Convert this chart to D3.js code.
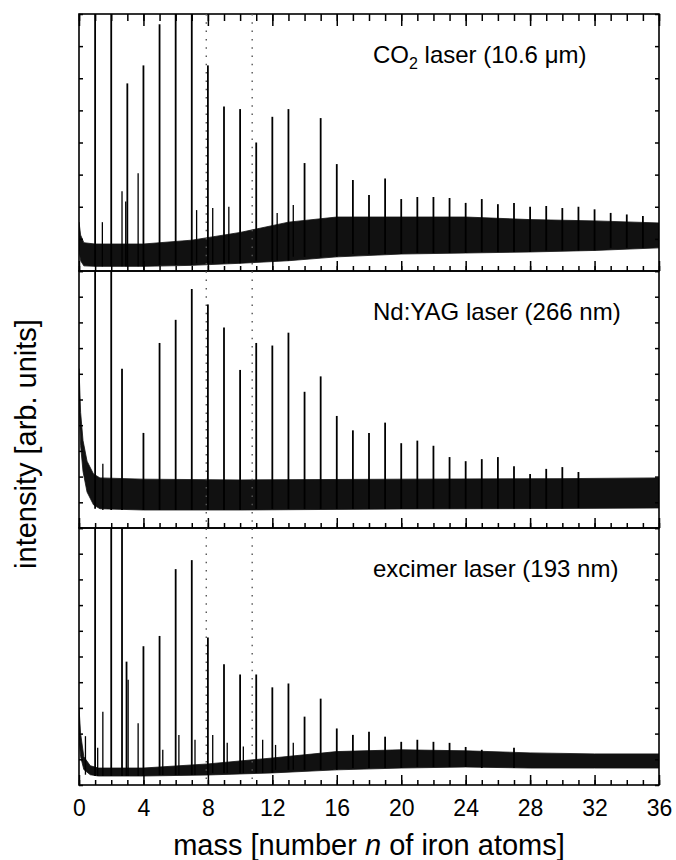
<!DOCTYPE html>
<html>
<head>
<meta charset="utf-8">
<script src="https://cdn.jsdelivr.net/npm/d3@7"></script>
<style>
  body { margin: 0; background: #fff; }
  svg { display: block; font-family: "Liberation Sans", Arial, sans-serif; }
</style>
</head>
<body>
<div id="chart"></div>
<script>
// mass axis
const xMajorTicks = [0, 4, 8, 12, 16, 20, 24, 28, 32, 36];
const xMinorTicks = [0,1,2,3,4,5,6,7,8,9,10,11,12,13,14,15,16,17,18,19,20,21,22,23,24,25,26,27,28,29,30,31,32,33,34,35,36];
const guideLines = [7.9, 10.75];

// CO2 laser: [n, intensity in % of panel height]
const co2Peaks = [[1,110],[2,110],[3,73],[4,80],[5,96],[6,110],[7,110],[8,80],[9,64],[10,63],
  [11,50],[12,60],[13,63],[14,42],[15,59.5],[16,41.6],[17,35.4],[18,29.6],[19,36],[20,28],
  [21,28.8],[22,28.8],[23,28.4],[24,26.5],[25,28],[26,26],[27,26.5],[28,25],[29,25.3],[30,24.5],
  [31,25],[32,24],[33,22.6],[34,22],[35,21.4]];
const co2Minor = [[1.45,19],[2.67,31],[2.9,27],[3.67,38],[7.3,23.7],[8.3,24.5],[9.3,25],[12.3,22.6],[13.3,25.7]];
const co2BandX  = [0, 0.1, 0.3, 1, 4, 7, 10, 13, 16, 20, 24, 28, 32, 36];
const co2BandLo = [8, 4, 2, 1.8, 1.8, 2.2, 3, 4, 5.5, 6.6, 7, 7.4, 8, 9];
const co2BandHi = [19, 14, 11, 10.5, 10.5, 12, 15, 19, 21, 21, 21, 20, 19.5, 18.7];

// Nd:YAG laser
const ndPeaks = [[1,110],[2,110],[2.67,62],[4,37],[5,72],[6,81],[7,93],[8,87],[9,78],[10,61.5],
  [11,72],[12,71],[13,76],[14,53],[15,59],[16,43.6],[17,38],[18,37],[19,41],[20,33],
  [21,34],[22,32],[23,27.6],[24,26],[25,26.8],[26,27.6],[27,24],[28,21],[29,23],[30,23.7],[31,21.8]];
const ndMinor = [[1.48,25]];
const ndBandX  = [0, 0.1, 0.25, 0.5, 0.9, 1.3, 4, 10, 20, 30, 36];
const ndBandLo = [50, 32, 22, 14, 9, 7.5, 7, 7, 7.4, 7.6, 7.8];
const ndBandHi = [62, 45, 34, 26, 21, 19.5, 19, 18.7, 19, 19.2, 19.5];

// excimer laser
const exPeaks = [[1,110],[2,110],[2.67,110],[2.95,48],[4,54],[5,58],[6,84],[7,87.5],[8,57.4],[9,47],
  [10,43],[11,43],[12,38],[13,39.5],[14,26.6],[15,33.6],[16,22],[17,19.5],[18,20.7],[19,18.8],
  [20,16.8],[21,17.6],[22,16.8],[23,16.4],[24,14.8],[25,13.7],[27,14.5]];
const exMinor = [[0.4,19],[1.16,14.5],[1.48,28.5],[3.05,41],[3.67,24],[5.2,13.7],[6.2,19.5],[7.2,17.6],
  [8.3,19.5],[9.2,16.4],[10.2,15],[11.4,17.6],[12.2,15.6],[13.3,16.4]];
const exBandX  = [0, 0.1, 0.3, 0.7, 1.2, 4, 8, 12, 16, 20, 24, 28, 32, 36];
const exBandLo = [18, 11, 6, 4, 3.5, 3.5, 3.9, 4.7, 5.9, 6.6, 7, 6.6, 6.6, 6.6];
const exBandHi = [30, 20, 11, 7.5, 6.6, 6.6, 8.2, 10.5, 13, 13.7, 13.3, 12.5, 12.1, 12.1];

const panels = [
  { label: "co2", peaks: co2Peaks, minor: co2Minor, bx: co2BandX, lo: co2BandLo, hi: co2BandHi, div: 8 },
  { label: "Nd:YAG laser (266 nm)", peaks: ndPeaks, minor: ndMinor, bx: ndBandX, lo: ndBandLo, hi: ndBandHi, div: 10 },
  { label: "excimer laser (193 nm)", peaks: exPeaks, minor: exMinor, bx: exBandX, lo: exBandLo, hi: exBandHi, div: 10 },
];

const W = 676, H = 860;
const left = 79, right = 659, top0 = 14, ph = 257;

const svg = d3.select("#chart").append("svg").attr("width", W).attr("height", H);

const x = d3.scaleLinear().domain([0, 36]).range([left, right]);

panels.forEach((p, i) => {
  const top = top0 + i * ph, bottom = top + ph;
  const y = d3.scaleLinear().domain([0, 100]).range([bottom, top]);

  const clipId = "clip" + i;
  svg.append("clipPath").attr("id", clipId)
    .append("rect").attr("x", left).attr("y", top).attr("width", right - left).attr("height", ph);

  const g = svg.append("g").attr("clip-path", `url(#${clipId})`);

  const band = p.bx.map((v, k) => ({ n: v, lo: p.lo[k], hi: p.hi[k] }));
  const area = d3.area().x(d => x(d.n)).y0(d => y(d.lo)).y1(d => y(d.hi));
  g.append("path").datum(band).attr("d", area).attr("fill", "#111")
    .attr("stroke", "#111").attr("stroke-width", 0.8);

  const baseAt = n => {
    const k = d3.bisectLeft(p.bx, n);
    if (k <= 0) return p.lo[0];
    return p.lo[Math.min(k, p.lo.length - 1)];
  };

  g.selectAll(".minor").data(p.minor).join("line")
    .attr("x1", d => x(d[0])).attr("x2", d => x(d[0]))
    .attr("y1", d => y(baseAt(d[0]))).attr("y2", d => y(d[1]))
    .attr("stroke", "#000").attr("stroke-width", 1.3);

  g.selectAll(".peak").data(p.peaks).join("line")
    .attr("x1", d => x(d[0])).attr("x2", d => x(d[0]))
    .attr("y1", d => y(baseAt(d[0]))).attr("y2", d => y(d[1]))
    .attr("stroke", "#000").attr("stroke-width", 1.8);

  // ticks
  const yTicks = d3.range(0, p.div + 1).map(k => k * 100 / p.div);
  svg.append("g").attr("transform", `translate(${left},0)`)
    .call(d3.axisLeft(y).tickValues(yTicks).tickSize(-4).tickFormat(""))
    .call(a => a.select(".domain").remove());
  svg.append("g").attr("transform", `translate(${right},0)`)
    .call(d3.axisRight(y).tickValues(yTicks).tickSize(-4).tickFormat(""))
    .call(a => a.select(".domain").remove());

  svg.append("g").attr("transform", `translate(0,${bottom})`)
    .call(d3.axisBottom(x).tickValues(xMinorTicks).tickSize(-5).tickFormat(""))
    .call(a => a.select(".domain").remove());
  const major = svg.append("g").attr("transform", `translate(0,${bottom})`)
    .call(d3.axisBottom(x).tickValues(xMajorTicks).tickSize(-10).tickPadding(15)
      .tickFormat(i === 2 ? d3.format("d") : ""))
    .call(a => a.select(".domain").remove());
  major.selectAll("text").attr("font-size", 23).attr("font-family", "Liberation Sans, Arial, sans-serif").attr("fill", "#000");

  if (i === 0) {
    svg.append("g").attr("transform", `translate(0,${top})`)
      .call(d3.axisTop(x).tickValues(xMinorTicks).tickSize(-7).tickFormat(""))
      .call(a => a.select(".domain").remove());
    svg.append("g").attr("transform", `translate(0,${top})`)
      .call(d3.axisTop(x).tickValues(xMajorTicks).tickSize(-12).tickFormat(""))
      .call(a => a.select(".domain").remove());
  }

  svg.selectAll(".tick line").attr("stroke-width", 1.5);

  svg.append("rect").attr("x", left).attr("y", top).attr("width", right - left).attr("height", ph)
    .attr("fill", "none").attr("stroke", "#000").attr("stroke-width", 1.6);

  const t = svg.append("text").attr("x", 373).attr("y", top + 49).attr("font-size", 24).attr("fill", "#000");
  if (p.label === "co2") {
    t.append("tspan").text("CO");
    t.append("tspan").attr("font-size", 16).attr("dy", 6).text("2");
    t.append("tspan").attr("dy", -6).text(" laser (10.6 \u03bcm)");
  } else {
    t.text(p.label);
  }
});

// dotted guide lines across all panels
svg.selectAll(".guide").data(guideLines).join("line")
  .attr("x1", d => x(d)).attr("x2", d => x(d))
  .attr("y1", top0).attr("y2", top0 + 3 * ph)
  .attr("stroke", "#555").attr("stroke-width", 1.4).attr("stroke-dasharray", "1.5,6.8");

// axis titles
const xt = svg.append("text").attr("x", (left + right) / 2).attr("y", 855)
  .attr("text-anchor", "middle").attr("font-size", 29).attr("fill", "#000");
xt.append("tspan").text("mass [number ");
xt.append("tspan").attr("font-style", "italic").text("n");
xt.append("tspan").text(" of iron atoms]");

svg.append("text").attr("transform", "translate(36,444) rotate(-90)")
  .attr("text-anchor", "middle").attr("font-size", 29).attr("fill", "#000")
  .text("intensity [arb. units]");
</script>
</body>
</html>
